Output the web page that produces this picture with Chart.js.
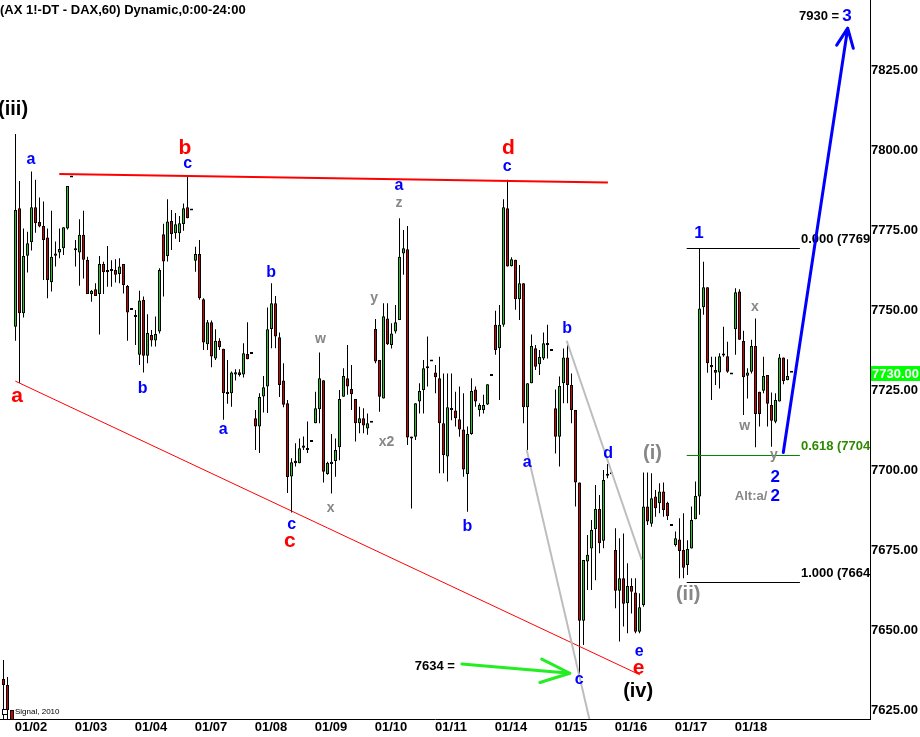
<!DOCTYPE html>
<html><head><meta charset="utf-8">
<script src="https://cdn.jsdelivr.net/npm/chart.js@4.4.1/dist/chart.umd.min.js"></script>
<style>html,body{margin:0;padding:0;background:#fff;overflow:hidden}canvas{display:block}</style>
</head><body>
<canvas id="c" width="920" height="737"></canvas>
<script>
const chartTitle = '(AX 1!-DT - DAX,60) Dynamic,0:00-24:00';
const dayLabels = ['01/02','01/03','01/04','01/07','01/08','01/09','01/10','01/11','01/14','01/15','01/16','01/17','01/18'];
const barsPerDay = 15;
const yTicks = [7625,7650,7675,7700,7725,7750,7775,7800,7825];

const opens = [
7744.0,7781.0,7748.2,7766.2,7770.4,7781.3,7776.7,7775.5,7771.9,7757.9,7766.2,7767.2,7768.5,7774.7,7790.6,
7767.9,7767.2,7772.7,7764.9,7754.2,7755.7,7754.2,7763.6,7761.7,7761.4,7761.7,7760.5,7763.6,7756.7,7749.2,
7747.5,7735.2,7752.4,7734.9,7741.4,7739.7,7742.5,7772.9,7766.1,7777.0,7773.2,7773.2,7776.1,7781.3,7780.3,
7764.6,7766.7,7752.6,7738.5,7745.4,7734.1,7739.6,7737.1,7723.7,7723.2,7729.1,7729.8,7729.1,7735.5,7735.5,
7715.4,7712.8,7722.2,7725.3,7743.3,7751.3,7740.7,7727.2,7720.1,7697.2,7702.1,7701.3,7706.9,7706.0,7708.0,
7713.8,7718.2,7727.3,7698.0,7701.1,7702.0,7706.3,7722.1,7727.9,7724.5,7721.4,7713.8,7715.4,7712.2,7714.0,
7743.3,7733.6,7721.6,7746.6,7738.3,7742.5,7746.1,7766.9,7768.2,7709.1,7709.6,7720.6,7724.2,7731.5,7733.1,
7729.7,7727.9,7713.8,7703.4,7718.0,7717.8,7715.1,7711.9,7698.0,7710.5,7724.4,7718.0,7718.0,7719.7,7728.6,
7744.6,7737.3,7744.6,7781.0,7763.0,7764.9,7752.6,7757.6,7718.8,7726.3,7737.3,7732.3,7734.1,7738.8,7736.4,
7718.5,7709.6,7726.3,7734.4,7725.8,7718.0,7695.3,7652.1,7670.6,7674.7,7680.7,7687.0,7677.1,7697.4,7697.9,
7674.2,7661.5,7665.4,7657.6,7663.0,7660.9,7648.7,7657.0,7687.8,7682.4,7690.9,7688.8,7692.5,7689.0,7681.7,
7675.8,7677.5,7674.2,7669.5,7674.7,7683.8,7690.9,7750.1,7756.3,7732.0,7730.5,7729.7,7735.5,7734.8,7729.1,
7743.2,7755.0,7739.5,7728.7,7729.9,7738.0,7723.7,7724.0,7728.9,7719.5,7714.3,7720.6,7734.4,7727.3,7729.6];
const highs = [
7804.2,7789.5,7774.7,7773.7,7792.5,7789.9,7784.4,7783.1,7774.7,7780.2,7770.6,7774.7,7775.1,7788.0,7790.6,
7771.1,7777.6,7780.2,7765.9,7755.5,7757.6,7766.1,7764.3,7769.2,7764.8,7765.1,7765.4,7763.6,7757.0,7749.2,
7749.2,7755.2,7753.4,7747.9,7743.0,7747.2,7762.3,7776.2,7783.8,7780.5,7779.5,7778.6,7782.5,7791.4,7780.3,
7769.0,7771.1,7752.9,7746.1,7745.9,7743.2,7740.4,7737.1,7733.6,7730.0,7730.7,7730.7,7738.8,7745.4,7735.5,
7718.0,7723.2,7728.6,7750.0,7757.6,7753.6,7742.2,7732.6,7721.1,7702.9,7707.6,7709.1,7709.7,7714.4,7708.0,
7723.7,7735.9,7727.3,7701.8,7710.5,7709.1,7724.2,7731.0,7738.3,7732.0,7721.4,7719.0,7718.5,7716.9,7714.0,
7746.4,7733.6,7751.3,7751.3,7745.1,7750.8,7777.9,7774.2,7775.5,7709.6,7720.1,7726.3,7733.6,7740.9,7733.1,
7732.0,7734.6,7729.4,7729.4,7729.4,7723.7,7725.3,7723.2,7712.8,7727.9,7725.3,7720.1,7722.7,7726.0,7728.6,
7749.0,7750.8,7783.8,7789.9,7765.7,7764.9,7763.3,7757.6,7726.3,7741.6,7738.3,7736.7,7742.2,7744.6,7736.4,
7724.4,7728.4,7737.2,7738.3,7729.4,7718.0,7695.3,7671.1,7678.9,7683.6,7694.5,7691.4,7699.2,7701.1,7697.9,
7681.0,7677.9,7679.4,7670.1,7665.4,7665.4,7660.7,7698.4,7698.4,7698.2,7693.0,7695.1,7695.3,7689.3,7681.7,
7680.0,7684.1,7685.7,7677.3,7687.8,7695.6,7768.5,7764.3,7756.3,7734.6,7734.6,7735.7,7744.0,7739.3,7729.1,
7756.0,7755.7,7742.7,7731.0,7739.9,7746.6,7723.7,7734.6,7728.9,7723.4,7723.2,7735.5,7734.4,7733.8,7729.6];
const lows = [
7739.6,7726.5,7746.9,7760.9,7767.8,7773.4,7775.1,7758.6,7752.9,7755.0,7762.8,7765.4,7766.4,7774.4,7790.6,
7762.8,7756.8,7759.1,7754.2,7751.8,7753.6,7741.6,7754.2,7756.5,7756.5,7757.8,7757.6,7754.4,7739.6,7749.2,
7738.3,7732.0,7729.7,7732.6,7737.8,7737.8,7741.9,7753.4,7764.4,7768.0,7771.5,7770.5,7774.0,7777.9,7780.3,
7761.2,7752.4,7736.7,7736.7,7731.3,7733.6,7736.7,7714.9,7719.9,7719.0,7727.2,7728.4,7728.1,7733.8,7735.5,
7705.5,7704.5,7717.2,7717.0,7737.3,7737.3,7722.0,7718.8,7692.0,7685.9,7700.3,7701.3,7705.5,7704.5,7708.0,
7713.8,7713.8,7695.3,7697.7,7691.9,7697.1,7702.3,7722.1,7722.7,7718.0,7708.1,7710.7,7710.7,7710.2,7714.0,
7732.6,7717.4,7721.6,7738.3,7737.2,7741.9,7746.1,7760.2,7707.0,7687.2,7708.6,7716.9,7716.9,7725.3,7733.1,
7723.2,7698.2,7698.2,7695.6,7714.8,7712.8,7709.6,7697.1,7686.2,7710.2,7719.0,7715.9,7716.9,7719.5,7728.6,
7735.2,7721.1,7744.0,7762.8,7762.8,7749.3,7746.1,7713.8,7705.5,7726.3,7730.5,7728.9,7733.6,7734.1,7736.4,
7704.4,7700.3,7720.1,7720.1,7713.8,7687.8,7635.5,7644.5,7661.7,7661.7,7664.8,7673.2,7674.8,7696.6,7697.9,
7656.0,7645.6,7650.3,7648.2,7654.4,7648.2,7648.2,7656.5,7682.0,7681.5,7684.6,7685.7,7684.6,7683.6,7681.7,
7675.3,7665.4,7665.4,7666.4,7674.7,7683.8,7685.2,7747.7,7729.6,7721.1,7725.8,7724.7,7734.6,7729.6,7729.1,
7735.2,7739.9,7716.4,7721.6,7729.4,7706.3,7712.8,7723.2,7712.8,7706.5,7713.8,7720.6,7726.0,7727.3,7729.6];
const closes = [
7780.5,7748.2,7766.1,7770.1,7781.3,7776.3,7775.3,7771.1,7758.6,7765.9,7766.9,7768.3,7775.1,7788.0,7790.6,
7768.4,7772.7,7764.9,7754.2,7755.2,7753.6,7763.6,7761.0,7761.0,7762.0,7760.2,7762.8,7757.0,7748.4,7749.2,
7747.0,7752.2,7734.9,7742.0,7739.7,7741.7,7761.7,7764.4,7776.9,7773.0,7776.0,7776.3,7781.0,7777.9,7780.3,
7766.7,7752.9,7739.1,7745.4,7734.7,7739.6,7737.6,7723.2,7723.0,7729.7,7729.8,7728.9,7735.7,7733.8,7735.5,
7712.8,7722.0,7725.1,7743.2,7751.3,7740.9,7725.8,7719.6,7697.0,7701.6,7701.3,7706.0,7706.2,7705.5,7708.0,
7718.5,7727.9,7698.7,7701.5,7701.8,7705.5,7721.4,7728.6,7725.3,7722.9,7713.8,7715.4,7713.1,7713.8,7714.0,
7733.1,7722.1,7747.3,7738.5,7741.9,7745.4,7765.9,7768.5,7709.4,7709.6,7720.1,7723.9,7731.0,7731.0,7733.1,
7728.2,7713.8,7703.9,7718.8,7718.5,7715.4,7711.9,7699.4,7710.5,7723.9,7720.6,7719.5,7719.5,7726.0,7728.6,
7736.7,7744.6,7781.3,7762.8,7765.1,7752.6,7757.6,7718.8,7726.3,7738.0,7731.5,7734.5,7738.8,7738.3,7736.4,
7709.6,7725.5,7734.4,7725.8,7718.0,7695.3,7652.1,7671.1,7672.7,7680.5,7687.0,7676.3,7696.1,7698.0,7697.9,
7661.5,7665.4,7657.4,7663.0,7661.2,7648.7,7656.3,7687.8,7683.1,7690.4,7687.3,7692.5,7686.7,7684.8,7681.7,
7677.9,7673.9,7668.7,7674.5,7683.6,7691.1,7749.7,7756.3,7732.6,7731.3,7729.6,7734.8,7735.0,7729.9,7729.1,
7754.8,7739.9,7728.2,7729.7,7738.0,7716.7,7716.7,7728.6,7719.9,7714.6,7721.1,7734.4,7727.0,7728.6,7729.6];

// wave labels: [text, bar index, price, style, align]
const waveLabels = [
  ['(iii)', -4.1, 7812.0, 'blackParen', 'left'],
  ['a', 3.9, 7796.1, 'blue'],
  ['a', 0.45, 7722.1, 'red'],
  ['b', 42.4, 7800.3, 'red'],
  ['c', 43.05, 7795.1, 'blue'],
  ['b', 31.95, 7725.1, 'blue'],
  ['a', 51.95, 7712.0, 'blue'],
  ['b', 64.05, 7761.4, 'blue'],
  ['c', 69.05, 7682.3, 'blue'],
  ['c', 68.6, 7677.0, 'red'],
  ['w', 76.1, 7740.2, 'gray'],
  ['x', 78.8, 7687.4, 'gray'],
  ['y', 89.7, 7752.6, 'gray'],
  ['x2', 92.8, 7708.3, 'gray'],
  ['a', 95.9, 7788.0, 'blue'],
  ['z', 95.9, 7782.6, 'gray'],
  ['d', 123.1, 7800.2, 'red'],
  ['c', 122.95, 7794.2, 'blue'],
  ['a', 127.95, 7701.6, 'blue'],
  ['b', 113.1, 7682.0, 'blue'],
  ['b', 138.05, 7743.8, 'blue'],
  ['d', 148.05, 7704.9, 'blue'],
  ['(i)', 159.3, 7704.4, 'grayParen'],
  ['(ii)', 168.2, 7660.2, 'grayParen'],
  ['e', 155.95, 7642.4, 'blue'],
  ['e', 155.7, 7637.3, 'red'],
  ['c', 140.95, 7633.6, 'blue'],
  ['(iv)', 155.7, 7629.9, 'blackParen'],
  ['1', 170.95, 7773.7, 'blueNum'],
  ['x', 184.9, 7750.1, 'gray'],
  ['w', 182.2, 7713.1, 'gray'],
  ['y', 189.6, 7703.4, 'gray'],
  ['2', 189.9, 7697.4, 'blueNum'],
  ['Alt:a/', 188.05, 7691.4, 'noteGray', 'right'],
  ['2', 189.9, 7691.4, 'blueNum'],
  ['7930 =', 200.95, 7841.4, 'note'],
  ['3', 207.8, 7841.4, 'blueNum'],
  ['7634 =', 104.9, 7638.0, 'note']
];
// trend lines: [fromIndex, fromPrice, toIndex, toPrice, style]
const trendLines = [
  [-0.05, 7727.0, 156.1, 7635.2, 'redThin'],
  [10.95, 7791.7, 148.1, 7789.1, 'redThick'],
  [127.8, 7705.5, 144.1, 7618.0, 'grayLine'],
  [137.8, 7739.6, 156.55, 7671.1, 'grayLine']
];
// arrows: shaft from, tip, two barb ends
const arrows = [
  {from:[111.6, 7638.6], tip:[138.6, 7635.7], barbs:[[131.55, 7640.1],[131.1, 7632.8]], style:'greenArrow'},
  {from:[191.95, 7704.7], tip:[208.05, 7837.3], barbs:[[205.3, 7832.0],[209.45, 7831.0]], style:'blueArrow'}
];
// Fibonacci retracement of wave 1
const fibRatios = ['0.000', '0.618', '1.000'];
const fibValues = [7768.5, 7704.0, 7664.1];
const fibStyles = ['fibBlack', 'fibGreen', 'fibBlack'];
const fibRange = [167.8, 196.1];

const FONT = '"Liberation Sans", Arial, Helvetica, sans-serif';
const styles = {
  red:        {font:'bold 21px ' + FONT, color:'#ff0000'},
  blue:       {font:'bold 16px ' + FONT, color:'#0000ff'},
  blueNum:    {font:'bold 17px ' + FONT, color:'#0000ff'},
  gray:       {font:'bold 14px ' + FONT, color:'#878787'},
  grayParen:  {font:'bold 20px ' + FONT, color:'#878787'},
  blackParen: {font:'bold 20px ' + FONT, color:'#000000'},
  note:       {font:'bold 13px ' + FONT, color:'#000000'},
  noteGray:   {font:'bold 13px ' + FONT, color:'#878787'},
  redThin:    {color:'#ff0000', width:1},
  redThick:   {color:'#ff0000', width:2},
  grayLine:   {color:'#bdbdbd', width:2},
  greenArrow: {color:'#22ee22', width:3},
  blueArrow:  {color:'#0000ff', width:3},
  fibBlack:   {color:'#000000', text:'#000000', width:1},
  fibGreen:   {color:'#008800', text:'#2e8a00', width:1}
};
const upColor = '#22c822', downColor = '#d40000';

Chart.defaults.font.family = FONT;

function drawInk(ctx, text, x, y, align) {
  ctx.textAlign = 'left'; ctx.textBaseline = 'alphabetic';
  const m = ctx.measureText(text);
  const l = m.actualBoundingBoxLeft, r = m.actualBoundingBoxRight;
  const a = m.actualBoundingBoxAscent, d = m.actualBoundingBoxDescent;
  let dx;
  if (align === 'left') dx = x + l;
  else if (align === 'right') dx = x - r;
  else dx = x - (r - l) / 2;
  ctx.fillText(text, dx, y + (a - d) / 2);
}

const overlay = {
  id: 'overlay',
  afterDatasetsDraw(chart) {
    const {ctx, chartArea: ca, scales: {x, y}} = chart;
    const X = v => x.getPixelForValue(v), Y = v => y.getPixelForValue(v);
    ctx.save();
    ctx.beginPath(); ctx.rect(ca.left, ca.top, ca.right - ca.left, ca.bottom - ca.top); ctx.clip();
    // fib levels
    fibValues.forEach((v, k) => {
      const st = styles[fibStyles[k]];
      const py = Math.round(Y(v)) + 0.5;
      ctx.strokeStyle = st.color; ctx.lineWidth = st.width;
      ctx.beginPath(); ctx.moveTo(X(fibRange[0]), py); ctx.lineTo(X(fibRange[1]), py); ctx.stroke();
      ctx.font = 'bold 13px ' + FONT; ctx.fillStyle = st.text;
      drawInk(ctx, fibRatios[k] + ' (' + Math.round(v) + ')', X(fibRange[1]) + 1, py - 9, 'left');
    });
    // trend lines
    trendLines.forEach(([i0, p0, i1, p1, s]) => {
      const st = styles[s];
      ctx.strokeStyle = st.color; ctx.lineWidth = st.width; ctx.lineCap = 'butt';
      ctx.beginPath(); ctx.moveTo(X(i0), Y(p0)); ctx.lineTo(X(i1), Y(p1)); ctx.stroke();
    });
    // arrows
    arrows.forEach(a => {
      const st = styles[a.style];
      ctx.strokeStyle = st.color; ctx.lineWidth = st.width; ctx.lineCap = 'round';
      ctx.beginPath();
      ctx.moveTo(X(a.from[0]), Y(a.from[1])); ctx.lineTo(X(a.tip[0]), Y(a.tip[1]));
      a.barbs.forEach(b => { ctx.moveTo(X(b[0]), Y(b[1])); ctx.lineTo(X(a.tip[0]), Y(a.tip[1])); });
      ctx.stroke();
    });
    // labels
    waveLabels.forEach(([t, i, p, s, al]) => {
      const st = styles[s];
      ctx.font = st.font; ctx.fillStyle = st.color;
      drawInk(ctx, t, X(i), Y(p), al || 'center');
    });
    ctx.restore();
  },
  afterDraw(chart) {
    const {ctx, chartArea: ca, scales: {y}} = chart;
    ctx.save();
    // title
    ctx.font = 'bold 13px ' + FONT; ctx.fillStyle = '#000';
    ctx.textAlign = 'left'; ctx.textBaseline = 'alphabetic';
    ctx.fillText(chartTitle, ca.left, ca.top + 13.5);
    // last price marker on the axis
    const last = closes[closes.length - 1];
    const py = y.getPixelForValue(last);
    ctx.fillStyle = '#00ff00';
    ctx.fillRect(ca.right + 1, Math.round(py - 7), chart.width - ca.right - 1, 15);
    ctx.fillStyle = '#ffffff'; ctx.font = 'bold 13px ' + FONT;
    drawInk(ctx, Math.round(last).toFixed(2), ca.right + 2, Math.round(py - 7) + 7.5, 'left');
    // software logo + copyright
    const bx = ca.left, by = ca.bottom;
    ctx.fillStyle = '#000';
    ctx.fillRect(bx + 3, by - 59, 1, 59);
    ctx.fillRect(bx + 7, by - 42, 1, 42);
    ctx.fillRect(bx + 2, by - 40, 3, 6);
    ctx.fillRect(bx + 6, by - 34, 3, 25);
    ctx.fillRect(bx + 10, by - 9, 4, 9);
    ctx.fillStyle = downColor;
    ctx.fillRect(bx + 3, by - 39, 1, 4);
    ctx.fillRect(bx + 7, by - 33, 1, 23);
    ctx.fillRect(bx + 11, by - 8, 2, 8);
    ctx.fillStyle = '#fff'; ctx.fillRect(bx + 2, by - 10, 6, 6);
    ctx.strokeStyle = '#000'; ctx.lineWidth = 1; ctx.strokeRect(bx + 2.5, by - 9.5, 5, 5);
    ctx.fillStyle = '#000'; ctx.font = '8px ' + FONT;
    drawInk(ctx, 'Signal, 2010', bx + 15, by - 6.5, 'left');
    ctx.restore();
  }
};

const idx = opens.map((_, i) => i);
const bodyColors = idx.map(i => closes[i] > opens[i] ? upColor : (closes[i] < opens[i] ? downColor : '#000'));

new Chart(document.getElementById('c'), {
  type: 'bar',
  data: {
    datasets: [
      {
        label: 'range',
        data: idx.map(i => ({x: i, y: [lows[i], highs[i]]})),
        backgroundColor: '#000', borderWidth: 0, barThickness: 1,
        grouped: false, order: 2, inflateAmount: 0
      },
      {
        label: 'body',
        data: idx.map(i => ({x: i, y: [opens[i], closes[i]]})),
        backgroundColor: bodyColors, borderColor: '#000', borderWidth: 1,
        borderSkipped: false, barThickness: 3, minBarLength: 2,
        grouped: false, order: 1, inflateAmount: 0
      }
    ]
  },
  options: {
    responsive: false, animation: false, maintainAspectRatio: false,
    layout: {padding: 0},
    plugins: {legend: {display: false}, tooltip: {enabled: false}},
    scales: {
      x: {
        type: 'linear', min: -3.875, max: 213.625, offset: false,
        grid: {display: false, drawTicks: false},
        border: {display: true, color: '#000', width: 1},
        afterBuildTicks: s => { s.ticks = dayLabels.map((_, d) => ({value: d * barsPerDay})); },
        afterFit: s => { s.height = 18; s.paddingLeft = 0; s.paddingRight = 0; },
        ticks: {
          autoSkip: false, maxRotation: 0, minRotation: 0, padding: 1, labelOffset: 15.5,
          color: '#000', font: {size: 13, weight: 'bold'},
          callback: v => dayLabels[Math.round(v / barsPerDay)]
        }
      },
      y: {
        position: 'right', min: 7621.4, max: 7846.1,
        grid: {display: false, drawTicks: false},
        border: {display: true, color: '#000', width: 1},
        afterBuildTicks: s => { s.ticks = yTicks.map(v => ({value: v})); },
        afterFit: s => { s.width = 50; s.paddingTop = 0; s.paddingBottom = 0; },
        ticks: {
          padding: 1, labelOffset: 3, color: '#000', font: {size: 13, weight: 'bold'},
          callback: v => Number(v).toFixed(2)
        }
      }
    }
  },
  plugins: [overlay]
});
</script>
</body></html>
